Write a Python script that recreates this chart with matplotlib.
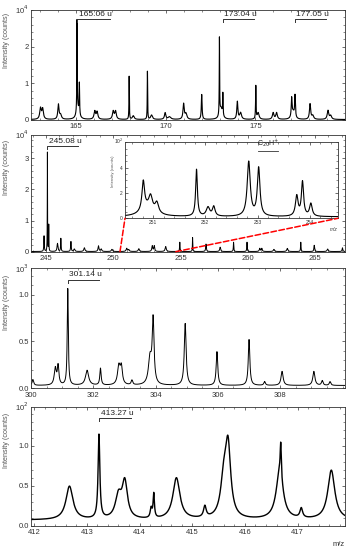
import numpy as np
import matplotlib.pyplot as plt
from matplotlib.patches import ConnectionPatch
from matplotlib.ticker import MultipleLocator

plt.rcParams['font.family'] = ['Liberation Sans', 'DejaVu Sans']

# Panel 1: m/z 162-180, intensity x10^4 counts
p1_mz = [163.0, 163.12, 164.0, 164.12, 165.04, 165.17, 165.08, 166.03, 166.16,
         167.06, 167.19, 167.95, 168.18, 168.97, 169.2, 169.96, 170.2, 170.99,
         171.12, 172.0, 172.99, 173.18, 173.08, 173.99, 174.17, 175.02, 175.15,
         175.99, 176.18, 177.02, 177.21, 177.1, 178.05, 178.2, 179.05, 179.2]
p1_h = [0.3, 0.28, 0.4, 0.12, 2.5, 0.85, 0.3, 0.22, 0.2,
        0.22, 0.22, 1.18, 0.1, 1.32, 0.12, 0.18, 0.07, 0.42,
        0.15, 0.68, 2.1, 0.6, 0.3, 0.48, 0.18, 0.9, 0.18,
        0.18, 0.18, 0.5, 0.6, 0.2, 0.42, 0.1, 0.24, 0.1]
p1_w = [0.05, 0.05, 0.04, 0.06, 0.012, 0.015, 0.09, 0.05, 0.05,
        0.05, 0.05, 0.012, 0.06, 0.012, 0.06, 0.045, 0.09, 0.04,
        0.06, 0.025, 0.012, 0.015, 0.09, 0.035, 0.06, 0.015, 0.06,
        0.05, 0.05, 0.025, 0.025, 0.09, 0.04, 0.06, 0.05, 0.06]

# Panel 2: m/z 244-267, intensity x10^4 counts
p2_mz = [244.85, 245.1, 245.2, 245.85, 246.1, 246.85, 247.1, 247.85, 248.9,
         249.1, 249.9, 251.0, 251.15, 251.9, 252.9, 253.05, 253.9, 254.95,
         255.9, 256.9, 257.95, 258.95, 259.95, 260.9, 261.05, 261.95, 262.95,
         263.95, 264.95, 265.95, 267.05]
p2_h = [0.5, 3.2, 0.85, 0.26, 0.42, 0.32, 0.08, 0.12, 0.18,
        0.08, 0.07, 0.1, 0.06, 0.09, 0.18, 0.18, 0.16, 0.3,
        0.45, 0.24, 0.14, 0.3, 0.3, 0.1, 0.1, 0.07, 0.1,
        0.3, 0.2, 0.08, 0.12]
p2_w = [0.02, 0.01, 0.012, 0.04, 0.02, 0.025, 0.05, 0.05, 0.04,
        0.05, 0.05, 0.05, 0.05, 0.05, 0.04, 0.04, 0.05, 0.02,
        0.015, 0.03, 0.04, 0.02, 0.02, 0.04, 0.04, 0.05, 0.05,
        0.02, 0.03, 0.05, 0.03]

# Inset: m/z 250.5-254.5, intensity x10^2 counts
pi_mz = [250.81, 250.95, 251.07, 250.9, 251.83, 252.05, 252.16, 252.83,
         253.02, 253.75, 253.86, 254.02]
pi_h = [2.3, 1.0, 0.8, 0.7, 3.7, 0.7, 0.75, 4.3, 3.8, 1.6, 2.7, 1.0]
pi_w = [0.03, 0.04, 0.04, 0.15, 0.02, 0.04, 0.03, 0.035, 0.03, 0.03, 0.025, 0.03]

# Panel 3: m/z 300-310, intensity x10^3 counts
p3_mz = [300.06, 300.78, 300.87, 301.18, 301.8, 302.23, 302.82, 302.9, 303.24,
         303.82, 303.92, 304.95, 305.97, 307.0, 307.5, 308.06, 309.08, 309.35,
         309.6]
p3_h = [0.06, 0.18, 0.2, 1.03, 0.16, 0.18, 0.2, 0.18, 0.05,
        0.28, 0.68, 0.66, 0.36, 0.49, 0.04, 0.15, 0.15, 0.05,
        0.04]
p3_w = [0.03, 0.04, 0.03, 0.02, 0.06, 0.025, 0.05, 0.04, 0.03,
        0.06, 0.035, 0.035, 0.03, 0.03, 0.03, 0.04, 0.04, 0.03,
        0.03]

# Panel 4: m/z 412-418, intensity x10^2 counts
p4_mz = [412.67, 413.23, 413.6, 413.72, 414.22, 414.27, 414.7, 415.24,
         415.6, 415.68, 416.66, 416.68, 417.07, 417.64]
p4_h = [0.42, 1.05, 0.28, 0.45, 0.12, 0.3, 0.52, 0.14,
        0.45, 0.85, 0.6, 0.4, 0.12, 0.62]
p4_w = [0.08, 0.02, 0.07, 0.06, 0.02, 0.015, 0.08, 0.03,
        0.07, 0.06, 0.08, 0.012, 0.03, 0.08]

labels = ['165.06 u', '173.04 u', '177.05 u', '245.08 u', '301.14 u', '413.27 u']
label_x0 = [165.06, 173.18, 177.2, 245.1, 301.18, 413.24]
label_x1 = [166.87, 174.93, 178.93, 247.4, 302.17, 413.83]
label_y = [2.75, 2.75, 2.75, 3.4, 1.16, 1.35]
label_panel = [0, 0, 0, 1, 2, 3]


def spectrum(x, mz, h, w, base):
    y = np.full_like(x, base)
    for m, a, g in zip(mz, h, w):
        y += a * g ** 2 / ((x - m) ** 2 + g ** 2)
    return y


def style(ax, xticks, minor, yticks, yminor, fs=5.5):
    ax.set_xticks(xticks)
    ax.set_yticks(yticks)
    ax.xaxis.set_minor_locator(MultipleLocator(minor))
    ax.yaxis.set_minor_locator(MultipleLocator(yminor))
    ax.tick_params(which='both', direction='in', top=True, right=True,
                   labelsize=fs, colors='#333333', pad=1.5)
    ax.tick_params(axis='x', which='major', pad=2.5)
    ax.tick_params(which='major', length=2.5, width=0.5)
    ax.tick_params(which='minor', length=1.4, width=0.4)
    for s in ax.spines.values():
        s.set_color('#333333')
        s.set_linewidth(0.6)


fig = plt.figure(figsize=(3.55, 5.5), dpi=100)
L, W = 31 / 355, 314 / 355
ax1 = fig.add_axes([L, 0.782, W, 0.200])
ax2 = fig.add_axes([L, 0.5424, W, 0.212])
ax3 = fig.add_axes([L, 0.294, W, 0.218])
ax4 = fig.add_axes([L, 0.0442, W, 0.2163])
axes = [ax1, ax2, ax3, ax4]

x1 = np.linspace(162.47, 180.0, 6000)
ax1.plot(x1, spectrum(x1, p1_mz, p1_h, p1_w, 0.01), color='black', lw=0.8)
ax1.set_xlim(162.47, 180.0)
ax1.set_ylim(0, 3.0)
style(ax1, [165, 170, 175], 1, [0, 1, 2], 0.2)

x2 = np.linspace(243.88, 267.24, 8000)
ax2.plot(x2, spectrum(x2, p2_mz, p2_h, p2_w, 0.005), color='black', lw=0.7)
ax2.set_xlim(243.88, 267.24)
ax2.set_ylim(0, 3.75)
style(ax2, [245, 250, 255, 260, 265], 1, [0, 1, 2, 3], 0.2)

x3 = np.linspace(300, 310.08, 5000)
ax3.plot(x3, spectrum(x3, p3_mz, p3_h, p3_w, 0.03), color='black', lw=0.7)
ax3.set_xlim(300, 310.08)
ax3.set_ylim(0, 1.28)
style(ax3, [300, 302, 304, 306, 308], 0.5, [0, 0.5, 1.0], 0.1)
ax3.yaxis.set_major_formatter(plt.FormatStrFormatter('%.1f'))

x4 = np.linspace(411.94, 417.9, 5000)
ax4.plot(x4, spectrum(x4, p4_mz, p4_h, p4_w, 0.07), color='black', lw=1.0)
ax4.set_xlim(411.94, 417.9)
ax4.set_ylim(0, 1.49)
style(ax4, [412, 413, 414, 415, 416, 417], 0.2, [0, 0.5, 1.0], 0.1)
ax4.yaxis.set_major_formatter(plt.FormatStrFormatter('%.1f'))
ax4.text(1.0, -0.13, 'm/z', transform=ax4.transAxes, ha='right', va='top',
         fontsize=5.5, color='#333333')

for ax, p in zip(axes, ['10$^4$', '10$^4$', '10$^3$', '10$^2$']):
    ax.text(-0.008, 1.0, p, transform=ax.transAxes, ha='right', va='center',
            fontsize=5.5, color='#333333')
    ax.set_ylabel('Intensity (counts)', fontsize=5.2, color='#555555')
    ax.yaxis.set_label_coords(-0.068, 0.72)

for t, a, b, y, k in zip(labels, label_x0, label_x1, label_y, label_panel):
    ax = axes[k]
    tick = 0.025 * ax.get_ylim()[1]
    ax.plot([a, a, b], [y - tick, y, y], color='#333333', lw=0.7)
    ax.text(a + 0.005 * (ax.get_xlim()[1] - ax.get_xlim()[0]), y + 0.01 * ax.get_ylim()[1],
            t, ha='left', va='bottom', fontsize=6, color='#222222')

# inset
axi = fig.add_axes([125 / 355, 1 - 218.3 / 550, 213 / 355, 76.6 / 550])
xi = np.linspace(250.46, 254.54, 3000)
axi.plot(xi, spectrum(xi, pi_mz, pi_h, pi_w, 0.12), color='black', lw=0.8)
axi.set_xlim(250.46, 254.54)
axi.set_ylim(0, 6.05)
style(axi, [251, 252, 253, 254], 0.2, [0, 2, 4], 0.5, fs=3.5)
axi.tick_params(axis='x', which='major', pad=1.5)
axi.text(-0.008, 1.0, '10$^2$', transform=axi.transAxes, ha='right', va='center',
         fontsize=3.5, color='#333333')
axi.set_ylabel('Intensity (counts)', fontsize=3, color='#555555')
axi.yaxis.set_label_coords(-0.045, 0.62)
axi.text(1.0, -0.12, 'm/z', transform=axi.transAxes, ha='right', va='top',
         fontsize=3.5, color='#333333', style='italic')
axi.text(253.2, 5.45, 'C$_{20}$H$^{+}$', ha='center', va='bottom', fontsize=5,
         color='#222222')
axi.plot([253.0, 253.4], [5.3, 5.3], color='#333333', lw=0.6)

for xa, xb in [((250.5, 0), (0, 0)), ((254.65, 0), (1, 0))]:
    cp = ConnectionPatch(xyA=xa, coordsA=ax2.transData, xyB=xb,
                         coordsB=axi.transAxes, color='red', ls='--', lw=1.1)
    fig.add_artist(cp)

fig.savefig('out.png', dpi=100)
